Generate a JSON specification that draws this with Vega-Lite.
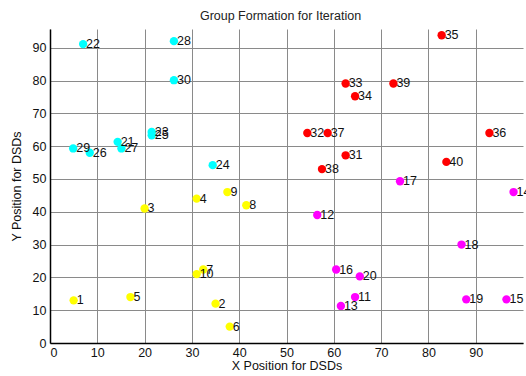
{
  "$schema": "https://vega.github.io/schema/vega-lite/v6.json",
  "autosize": "none",
  "width": 473,
  "height": 314,
  "padding": {"left": 50, "top": 29, "right": 3, "bottom": 33},
  "background": "white",
  "title": {"text": "Group Formation for Iteration", "font": "Liberation Sans", "fontSize": 12.5, "fontWeight": "normal", "color": "#222", "offset": 7, "dx": -6},
  "config": {
    "view": {"stroke": null},
    "axis": {"labelFont": "Liberation Sans", "titleFont": "Liberation Sans", "labelFontSize": 12.5, "titleFontSize": 12.5, "titleFontWeight": "normal", "labelColor": "#111", "titleColor": "#111", "gridColor": "#8a8a8a", "gridOpacity": 1, "gridWidth": 1, "domainColor": "#000", "domainWidth": 1.5, "ticks": false}
  },
  "data": {"values": [
    {"id": 1, "x": 5, "y": 13, "g": "A"},
    {"id": 2, "x": 35, "y": 12, "g": "A"},
    {"id": 3, "x": 20, "y": 41, "g": "A"},
    {"id": 4, "x": 31, "y": 44, "g": "A"},
    {"id": 5, "x": 17, "y": 14, "g": "A"},
    {"id": 6, "x": 38, "y": 5, "g": "A"},
    {"id": 7, "x": 32.4, "y": 22.4, "g": "A"},
    {"id": 10, "x": 31, "y": 21, "g": "A"},
    {"id": 8, "x": 41.5, "y": 42, "g": "A"},
    {"id": 9, "x": 37.5, "y": 46, "g": "A"},
    {"id": 11, "x": 64.5, "y": 14, "g": "B"},
    {"id": 12, "x": 56.5, "y": 39, "g": "B"},
    {"id": 13, "x": 61.5, "y": 11.3, "g": "B"},
    {"id": 14, "x": 98, "y": 46, "g": "B"},
    {"id": 15, "x": 96.5, "y": 13.3, "g": "B"},
    {"id": 16, "x": 60.5, "y": 22.4, "g": "B"},
    {"id": 17, "x": 74, "y": 49.3, "g": "B"},
    {"id": 18, "x": 87, "y": 30, "g": "B"},
    {"id": 19, "x": 88, "y": 13.3, "g": "B"},
    {"id": 20, "x": 65.5, "y": 20.3, "g": "B"},
    {"id": 21, "x": 14.3, "y": 61.3, "g": "C"},
    {"id": 22, "x": 7, "y": 91.1, "g": "C"},
    {"id": 23, "x": 21.5, "y": 64.3, "g": "C"},
    {"id": 25, "x": 21.5, "y": 63.3, "g": "C"},
    {"id": 24, "x": 34.4, "y": 54.2, "g": "C"},
    {"id": 26, "x": 8.4, "y": 58, "g": "C"},
    {"id": 27, "x": 15.1, "y": 59.3, "g": "C"},
    {"id": 28, "x": 26.2, "y": 92, "g": "C"},
    {"id": 29, "x": 4.9, "y": 59.3, "g": "C"},
    {"id": 30, "x": 26.2, "y": 80.1, "g": "C"},
    {"id": 31, "x": 62.5, "y": 57.2, "g": "D"},
    {"id": 32, "x": 54.4, "y": 64, "g": "D"},
    {"id": 33, "x": 62.5, "y": 79.1, "g": "D"},
    {"id": 34, "x": 64.5, "y": 75.2, "g": "D"},
    {"id": 35, "x": 82.8, "y": 93.8, "g": "D"},
    {"id": 36, "x": 92.9, "y": 64, "g": "D"},
    {"id": 37, "x": 58.7, "y": 64, "g": "D"},
    {"id": 38, "x": 57.5, "y": 53, "g": "D"},
    {"id": 39, "x": 72.6, "y": 79.1, "g": "D"},
    {"id": 40, "x": 83.8, "y": 55.2, "g": "D"}
  ]},
  "encoding": {
    "x": {"field": "x", "type": "quantitative", "scale": {"domain": [0, 100], "nice": false}, "axis": {"values": [0,10,20,30,40,50,60,70,80,90], "title": "X Position for DSDs", "labelPadding": 3, "titlePadding": 1, "grid": true}},
    "y": {"field": "y", "type": "quantitative", "scale": {"domain": [0, 95.7], "nice": false}, "axis": {"values": [0,10,20,30,40,50,60,70,80,90], "title": "Y Position for DSDs", "labelPadding": 4, "titlePadding": 9, "grid": true}}
  },
  "layer": [
    {"mark": {"type": "point", "filled": true, "shape": "circle", "size": 70, "opacity": 1},
     "encoding": {"color": {"field": "g", "type": "nominal", "scale": {"domain": ["A","B","C","D"], "range": ["#ffff00","#ff00ff","#00ffff","#ff0000"]}, "legend": null}}},
    {"mark": {"type": "text", "align": "left", "baseline": "middle", "dx": 3, "font": "Liberation Sans", "fontSize": 12.5, "color": "#111"},
     "encoding": {"text": {"field": "id", "type": "nominal"}}}
  ]
}
